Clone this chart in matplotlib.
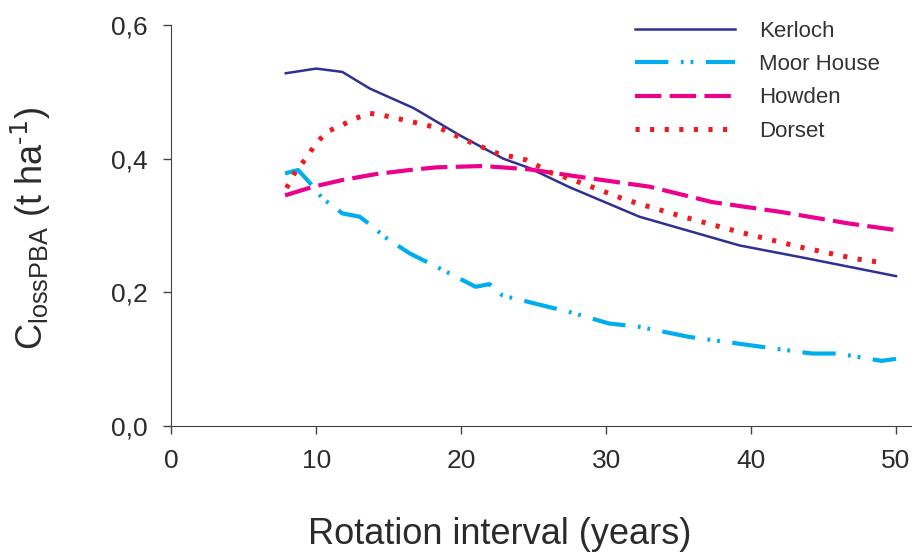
import matplotlib.pyplot as plt

plt.rcParams['font.family'] = ['Liberation Sans', 'DejaVu Sans']
plt.rcParams['lines.scale_dashes'] = False

# rotation interval (years) and C loss for each site
kerloch_x = [7.9, 10.0, 11.8, 13.7, 16.7, 19.9, 22.9, 24.7, 27.5, 32.3, 39.2, 43.75, 50.0]
kerloch_y = [0.528, 0.535, 0.530, 0.505, 0.476, 0.435, 0.400, 0.386, 0.357, 0.313, 0.270, 0.251, 0.224]

moor_x = [7.85, 8.75, 9.8, 10.4, 11.8, 13.0, 13.9, 14.7, 16.45, 18.3, 20.1, 21.0, 21.95,
          22.85, 24.7, 27.5, 30.2, 32.3, 35.7, 40.75, 44.2, 46.0, 49.0, 50.0]
moor_y = [0.378, 0.383, 0.358, 0.341, 0.318, 0.313, 0.298, 0.283, 0.258, 0.238, 0.218, 0.208, 0.212,
          0.195, 0.185, 0.170, 0.153, 0.148, 0.133, 0.118, 0.108, 0.108, 0.097, 0.100]

howden_x = [7.85, 9.8, 11.8, 14.15, 16.45, 18.3, 21.5, 24.7, 28.1, 33.0, 37.3, 42.1, 46.7, 50.0]
howden_y = [0.345, 0.358, 0.368, 0.377, 0.383, 0.387, 0.389, 0.384, 0.373, 0.358, 0.335, 0.320, 0.303, 0.293]

dorset_x = [7.95, 8.5, 9.2, 9.9, 10.7, 11.75, 12.65, 13.7, 14.6, 15.65, 16.65, 18.6, 20.6,
            22.5, 24.5, 26.3, 27.5, 31.4, 35.3, 39.2, 43.3, 47.2, 49.1]
dorset_y = [0.356, 0.378, 0.398, 0.420, 0.440, 0.450, 0.460, 0.468, 0.465, 0.460, 0.455, 0.445, 0.425,
            0.408, 0.398, 0.378, 0.370, 0.338, 0.313, 0.290, 0.268, 0.250, 0.244]

x_ticks = [0, 10, 20, 30, 40, 50]
y_ticks = [0.0, 0.2, 0.4, 0.6]
y_labels = ['0,0', '0,2', '0,4', '0,6']

txt = '#2b2b2b'

fig = plt.figure(figsize=(9.16, 5.6), dpi=100)
ax = fig.add_axes([0.187, 0.240, 0.807, 0.715])

ax.plot(kerloch_x, kerloch_y, color='#2e3192', lw=1.8, label='Kerloch')
ax.plot(moor_x, moor_y, color='#00aeef', lw=3, dashes=(24, 9, 2, 5, 2, 9), label='Moor House')
ax.plot(howden_x, howden_y, color='#ec008c', lw=3, dashes=(19, 6), label='Howden')
ax.plot(dorset_x, dorset_y, color='#ed1c24', lw=3.6, dashes=(3, 7.5), label='Dorset')

ax.set_xlim(0, 51)
ax.set_ylim(0, 0.6)
ax.set_xticks(x_ticks)
ax.set_yticks(y_ticks)
ax.set_yticklabels(y_labels)
ax.tick_params(labelsize=19, labelcolor=txt, length=6, width=1, color='#444444', pad=11)
for s in ['top', 'right']:
    ax.spines[s].set_visible(False)
for s in ['left', 'bottom']:
    ax.spines[s].set_color('#444444')

ax.set_xlabel('Rotation interval (years)', fontsize=26, color=txt)
ax.xaxis.set_label_coords(0.444, -0.228)
ax.set_ylabel('C$_{\\mathregular{lossPBA}}$ (t ha$^{\\mathregular{\u2010}1}$)', fontsize=26, color=txt)
ax.yaxis.set_label_coords(-0.16, 0.493)

ax.legend(loc='upper left', bbox_to_anchor=(635 / 916, 1 - 21 / 560), bbox_transform=fig.transFigure,
          frameon=False, fontsize=16, borderpad=0, borderaxespad=0,
          handlelength=4.5, handletextpad=1.1, labelspacing=0.55, labelcolor='#333333')

fig.savefig('out.png', dpi=100)
